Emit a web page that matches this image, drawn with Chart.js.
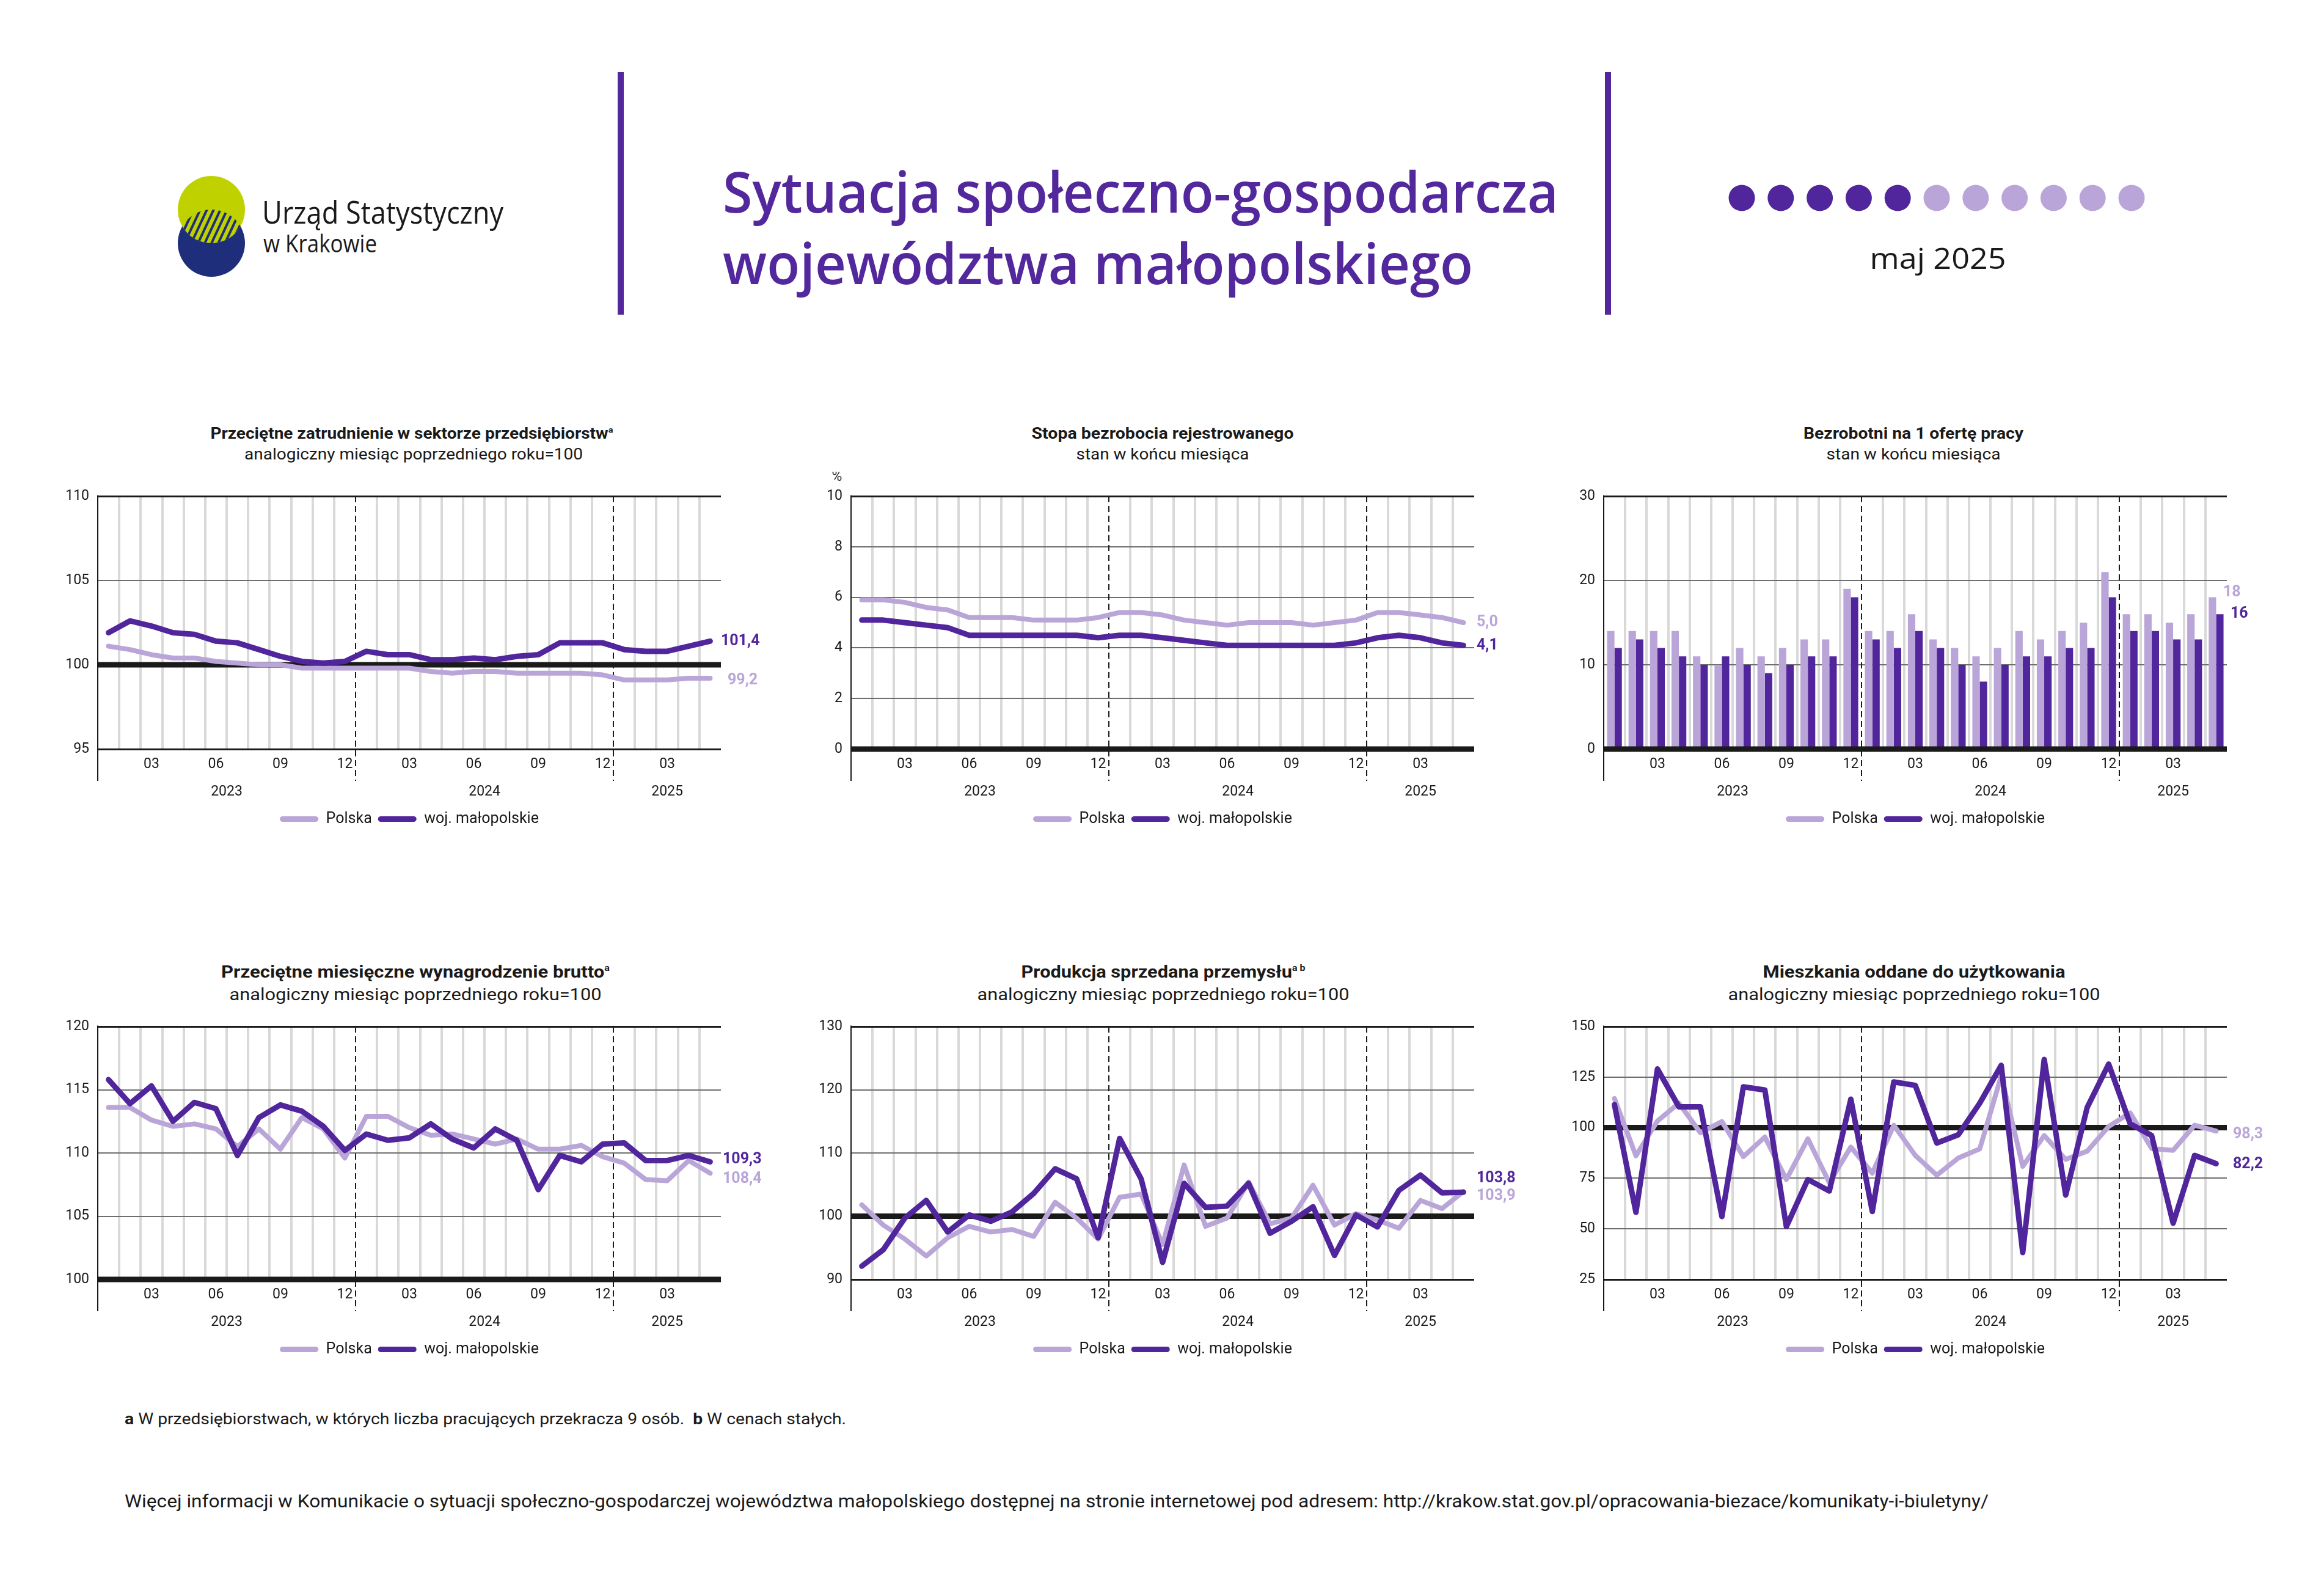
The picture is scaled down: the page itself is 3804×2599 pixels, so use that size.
<!DOCTYPE html>
<html lang="pl">
<head>
<meta charset="utf-8">
<title>Sytuacja społeczno-gospodarcza województwa małopolskiego – maj 2025</title>
<script src="https://cdn.jsdelivr.net/npm/chart.js@4.4.1/dist/chart.umd.min.js"></script>
<style>
  html, body { margin: 0; padding: 0; background: #fff; }
  #page { position: relative; width: 3804px; height: 2599px; overflow: hidden; background: #fff; }
  #page svg, #page canvas { position: absolute; left: 0; top: 0; }
  text { font-family: Roboto, sans-serif; fill: #1a1a1a; }
</style>
</head>
<body>
<div id="page">
<svg width="3804" height="2599" xmlns="http://www.w3.org/2000/svg">
  <defs>
    <clipPath id="navyClip"><circle cx="346" cy="398" r="55"/></clipPath>
    <pattern id="hatch" patternUnits="userSpaceOnUse" width="10" height="10" patternTransform="rotate(25)">
      <rect x="0" y="0" width="4" height="10" fill="#1f2e7a"/>
    </pattern>
  </defs>
  <!-- logo -->
  <circle cx="346" cy="398" r="55" fill="#1f2e7a"/>
  <circle cx="346" cy="343" r="55" fill="#bfd200"/>
  <g clip-path="url(#navyClip)"><circle cx="346" cy="343" r="55" fill="url(#hatch)"/></g>
  <text x="429" y="366" font-size="52" textLength="395" lengthAdjust="spacingAndGlyphs" style="font-family:'Open Sans'">Urząd Statystyczny</text>
  <text x="431" y="413" font-size="41" textLength="186" lengthAdjust="spacingAndGlyphs" style="font-family:'Open Sans'">w Krakowie</text>

  <rect x="1011" y="118" width="10" height="397" fill="#53289c"/>
  <rect x="2627" y="118" width="10" height="397" fill="#53289c"/>

  <text x="1183" y="348" font-size="92" font-weight="600" textLength="1368" lengthAdjust="spacingAndGlyphs" style="font-family:'Open Sans';fill:#53289c">Sytuacja społeczno-gospodarcza</text>
  <text x="1183" y="465" font-size="92" font-weight="600" textLength="1228" lengthAdjust="spacingAndGlyphs" style="font-family:'Open Sans';fill:#53289c">województwa małopolskiego</text>

  <g id="dots"></g>
  <text x="3172" y="440" text-anchor="middle" font-size="47" textLength="223" lengthAdjust="spacingAndGlyphs" style="font-family:'Open Sans'">maj 2025</text>

  <!-- chart titles -->
  <text x="674" y="718" text-anchor="middle" font-size="25" font-weight="700" textLength="659" lengthAdjust="spacingAndGlyphs">Przeciętne zatrudnienie w sektorze przedsiębiorstw<tspan font-size="13" dy="-10">a</tspan></text>
  <text x="677" y="752" text-anchor="middle" font-size="25" textLength="554" lengthAdjust="spacingAndGlyphs">analogiczny miesiąc poprzedniego roku=100</text>

  <text x="1903" y="718" text-anchor="middle" font-size="25" font-weight="700" textLength="429" lengthAdjust="spacingAndGlyphs">Stopa bezrobocia rejestrowanego</text>
  <text x="1903" y="752" text-anchor="middle" font-size="25" textLength="283" lengthAdjust="spacingAndGlyphs">stan w końcu miesiąca</text>

  <text x="3132" y="718" text-anchor="middle" font-size="25" font-weight="700" textLength="360" lengthAdjust="spacingAndGlyphs">Bezrobotni na 1 ofertę pracy</text>
  <text x="3132" y="752" text-anchor="middle" font-size="25" textLength="285" lengthAdjust="spacingAndGlyphs">stan w końcu miesiąca</text>

  <text x="680" y="1600" text-anchor="middle" font-size="27" font-weight="700" textLength="636" lengthAdjust="spacingAndGlyphs">Przeciętne miesięczne wynagrodzenie brutto<tspan font-size="14" dy="-11">a</tspan></text>
  <text x="680" y="1637" text-anchor="middle" font-size="27" textLength="609" lengthAdjust="spacingAndGlyphs">analogiczny miesiąc poprzedniego roku=100</text>

  <text x="1904" y="1600" text-anchor="middle" font-size="27" font-weight="700" textLength="465" lengthAdjust="spacingAndGlyphs">Produkcja sprzedana przemysłu<tspan font-size="14" dy="-11">a b</tspan></text>
  <text x="1904" y="1637" text-anchor="middle" font-size="27" textLength="609" lengthAdjust="spacingAndGlyphs">analogiczny miesiąc poprzedniego roku=100</text>

  <text x="3133" y="1600" text-anchor="middle" font-size="27" font-weight="700" textLength="495" lengthAdjust="spacingAndGlyphs">Mieszkania oddane do użytkowania</text>
  <text x="3133" y="1637" text-anchor="middle" font-size="27" textLength="609" lengthAdjust="spacingAndGlyphs">analogiczny miesiąc poprzedniego roku=100</text>

  <!-- footer -->
  <text x="204" y="2331" font-size="25" textLength="1181" lengthAdjust="spacingAndGlyphs"><tspan font-weight="700">a</tspan> W przedsiębiorstwach, w których liczba pracujących przekracza 9 osób.&#160; <tspan font-weight="700">b</tspan> W cenach stałych.</text>
  <text x="204" y="2467" font-size="30" textLength="3051" lengthAdjust="spacingAndGlyphs">Więcej informacji w Komunikacie o sytuacji społeczno-gospodarczej województwa małopolskiego dostępnej na stronie internetowej pod adresem: http://krakow.stat.gov.pl/opracowania-biezace/komunikaty-i-biuletyny/</text>
</svg>
<canvas id="c1"></canvas>
<canvas id="c2"></canvas>
<canvas id="c3"></canvas>
<canvas id="c4"></canvas>
<canvas id="c5"></canvas>
<canvas id="c6"></canvas>
</div>
<script>
// months Jan 2023 - May 2025
const monthLabels = ['01','02','03','04','05','06','07','08','09','10','11','12',
                     '01','02','03','04','05','06','07','08','09','10','11','12',
                     '01','02','03','04','05'];
const quarterTicks = ['03','06','09','12'];
const yearLabels = ['2023','2024','2025'];
const yearSpans = [12, 12, 5];
const seriesNames = ['Polska', 'woj. małopolskie'];

const zatrPolska = [101.1,100.9,100.6,100.4,100.4,100.2,100.1,100.0,100.0,99.8,99.8,99.8,
                    99.8,99.8,99.8,99.6,99.5,99.6,99.6,99.5,99.5,99.5,99.5,99.4,
                    99.1,99.1,99.1,99.2,99.2];
const zatrMalop = [101.9,102.6,102.3,101.9,101.8,101.4,101.3,100.9,100.5,100.2,100.1,100.2,
                   100.8,100.6,100.6,100.3,100.3,100.4,100.3,100.5,100.6,101.3,101.3,101.3,
                   100.9,100.8,100.8,101.1,101.4];
const zatrTicks = [95, 100, 105, 110];

const bezrobPolska = [5.9,5.9,5.8,5.6,5.5,5.2,5.2,5.2,5.1,5.1,5.1,5.2,
                      5.4,5.4,5.3,5.1,5.0,4.9,5.0,5.0,5.0,4.9,5.0,5.1,
                      5.4,5.4,5.3,5.2,5.0];
const bezrobMalop = [5.1,5.1,5.0,4.9,4.8,4.5,4.5,4.5,4.5,4.5,4.5,4.4,
                     4.5,4.5,4.4,4.3,4.2,4.1,4.1,4.1,4.1,4.1,4.1,4.2,
                     4.4,4.5,4.4,4.2,4.1];
const bezrobTicks = [0, 2, 4, 6, 8, 10];

const ofertyPolska = [14,14,14,14,11,10,12,11,12,13,13,19,
                      14,14,16,13,12,11,12,14,13,14,15,21,
                      16,16,15,16,18];
const ofertyMalop = [12,13,12,11,10,11,10,9,10,11,11,18,
                     13,12,14,12,10,8,10,11,11,12,12,18,
                     14,14,13,13,16];
const ofertyTicks = [0, 10, 20, 30];

const wynagPolska = [113.6,113.6,112.6,112.1,112.3,111.9,110.5,111.9,110.3,112.8,111.9,109.6,
                     112.9,112.9,112.0,111.4,111.5,111.1,110.7,111.1,110.3,110.3,110.6,109.7,
                     109.2,107.9,107.8,109.4,108.4];
const wynagMalop = [115.8,113.9,115.3,112.5,114.0,113.5,109.8,112.8,113.8,113.3,112.1,110.2,
                    111.5,111.0,111.2,112.3,111.1,110.4,111.9,111.0,107.1,109.8,109.3,110.7,
                    110.8,109.4,109.4,109.8,109.3];
const wynagTicks = [100, 105, 110, 115, 120];

const prodPolska = [101.8,98.6,96.4,93.7,96.6,98.4,97.5,97.9,96.8,102.2,99.7,96.4,
                    103.0,103.5,95.5,108.1,98.4,99.7,105.4,98.8,99.7,104.9,98.6,100.4,
                    99.4,98.1,102.5,101.2,103.9];
const prodMalop = [92.1,94.7,99.7,102.5,97.5,100.2,99.2,100.7,103.6,107.5,105.9,96.6,
                   112.3,105.9,92.7,105.2,101.4,101.6,105.2,97.3,99.2,101.5,93.8,100.2,
                   98.3,104.1,106.5,103.7,103.8];
const prodTicks = [90, 100, 110, 120, 130];

const mieszkPolska = [114.4,86.1,103.3,112.1,97.5,103.0,85.7,95.4,74.4,94.5,72.8,90.4,
                      77.5,101.2,86.3,76.5,85.0,89.5,125.6,80.9,96.1,84.3,88.4,100.6,
                      107.3,89.7,88.8,101.2,98.3];
const mieszkMalop = [111.4,58.2,129.0,110.3,110.3,56.1,120.2,118.6,51.1,74.4,68.7,114.1,
                     58.6,122.6,120.9,92.4,96.5,112.1,130.8,38.3,133.7,66.7,110.0,131.4,
                     101.9,96.1,52.8,86.3,82.2];
const mieszkTicks = [25, 50, 75, 100, 125, 150];

const colPolska = '#b9a5d8';
const colMalop = '#51259b';
const ink = '#1a1a1a';

// progress dots in the header (5 of 12 months done)
const dotsG = document.getElementById('dots');
for (let i = 0; i < 11; i++) {
    const c = document.createElementNS('http://www.w3.org/2000/svg', 'circle');
    c.setAttribute('cx', 2851 + i * 63.8);
    c.setAttribute('cy', 324);
    c.setAttribute('r', 21.5);
    c.setAttribute('fill', i < 5 ? colMalop : colPolska);
    dotsG.appendChild(c);
}

Chart.defaults.font.family = 'Roboto, sans-serif';

function drawBase(chart, base) {
    const {ctx, chartArea: a, scales: {y}} = chart;
    const py = y.getPixelForValue(base);
    ctx.save();
    ctx.strokeStyle = ink;
    ctx.lineWidth = 9;
    ctx.setLineDash([]);
    ctx.beginPath();
    ctx.moveTo(a.left, py);
    ctx.lineTo(a.right, py);
    ctx.stroke();
    ctx.restore();
}

const decor = {
    id: 'decor',
    beforeDatasetsDraw(chart, args, o) {
        const {ctx, chartArea: a, scales: {x}} = chart;
        ctx.save();
        ctx.strokeStyle = ink;
        ctx.lineWidth = 2;
        ctx.setLineDash([10, 6]);
        let start = 0;
        yearSpans.slice(0, -1).forEach(n => {
            start += n;
            const px = Math.round((x.getPixelForValue(start - 1) + x.getPixelForValue(start)) / 2);
            ctx.beginPath();
            ctx.moveTo(px, a.top);
            ctx.lineTo(px, a.bottom + 52);
            ctx.stroke();
        });
        ctx.setLineDash([]);
        ctx.beginPath();
        ctx.moveTo(a.left, a.top - 1.5);
        ctx.lineTo(a.left, a.bottom + 52);
        ctx.stroke();
        ctx.restore();
        if (!o.baseOnTop) drawBase(chart, o.base);
    },
    afterDatasetsDraw(chart, args, o) {
        if (o.baseOnTop) drawBase(chart, o.base);
        const {ctx, chartArea: a, scales: {y}} = chart;
        ctx.save();
        ctx.font = 'bold 25px Roboto, sans-serif';
        ctx.textAlign = 'left';
        ctx.textBaseline = 'middle';
        chart.data.datasets.forEach((ds, i) => {
            const v = ds.data[ds.data.length - 1];
            const lab = o.labels[i];
            ctx.fillStyle = ds.backgroundColor;
            ctx.fillText(v.toFixed(o.digits).replace('.', ','), a.right + lab.dx, y.getPixelForValue(v) + lab.dy);
        });
        ctx.restore();
    },
    afterDraw(chart, args, o) {
        const {ctx, chartArea: a, scales: {x}} = chart;
        ctx.save();
        ctx.font = '23px Roboto, sans-serif';
        ctx.fillStyle = ink;
        ctx.textAlign = 'center';
        ctx.textBaseline = 'middle';
        let s = 0;
        yearLabels.forEach((t, k) => {
            const e = s + yearSpans[k] - 1;
            ctx.fillText(t, (x.getPixelForValue(s) + x.getPixelForValue(e)) / 2, a.bottom + 70);
            s += yearSpans[k];
        });
        if (o.unit) ctx.fillText(o.unit, a.left - 23, a.top - 31);
        ctx.restore();
    }
};

const charts = [
    {id: 'c1', left: 160, top: 812, type: 'line', polska: zatrPolska, malop: zatrMalop, ticks: zatrTicks,
     base: 100, digits: 1, labels: [{dx: 11, dy: 4}, {dx: 0, dy: 0}]},
    {id: 'c2', left: 1393, top: 812, type: 'line', polska: bezrobPolska, malop: bezrobMalop, ticks: bezrobTicks,
     base: 0, digits: 1, unit: '%', labels: [{dx: 4, dy: 0}, {dx: 4, dy: 0}]},
    {id: 'c3', left: 2625, top: 812, type: 'bar', polska: ofertyPolska, malop: ofertyMalop, ticks: ofertyTicks,
     base: 0, digits: 0, labels: [{dx: -6, dy: -8}, {dx: 6, dy: 0}]},
    {id: 'c4', left: 160, top: 1680, type: 'line', polska: wynagPolska, malop: wynagMalop, ticks: wynagTicks,
     base: 100, digits: 1, labels: [{dx: 3, dy: 10}, {dx: 3, dy: -4}]},
    {id: 'c5', left: 1393, top: 1680, type: 'line', polska: prodPolska, malop: prodMalop, ticks: prodTicks,
     base: 100, digits: 1, labels: [{dx: 4, dy: 8}, {dx: 4, dy: -22}]},
    {id: 'c6', left: 2625, top: 1680, type: 'line', polska: mieszkPolska, malop: mieszkMalop, ticks: mieszkTicks,
     base: 100, digits: 1, labels: [{dx: 10, dy: 6}, {dx: 10, dy: 1}]}
];

charts.forEach(c => {
    const el = document.getElementById(c.id);
    el.width = 1280;
    el.height = 596;
    el.style.left = (c.left - 130) + 'px';
    el.style.top = (c.top - 40) + 'px';
    const isBar = c.type === 'bar';
    const ymin = c.ticks[0];
    const ymax = c.ticks[c.ticks.length - 1];

    const mkSet = (name, data, color, width, order) => isBar
        ? {label: name, data: data, backgroundColor: color, borderColor: color, borderWidth: 0,
           categoryPercentage: 0.69, barPercentage: 1}
        : {label: name, data: data, backgroundColor: color, borderColor: color, borderWidth: width,
           pointRadius: 0, tension: 0, borderJoinStyle: 'round', borderCapStyle: 'round', fill: false, order: order};

    new Chart(el, {
        type: c.type,
        data: {
            labels: monthLabels,
            datasets: [
                mkSet(seriesNames[0], c.polska, colPolska, 8, 2),
                mkSet(seriesNames[1], c.malop, colMalop, 9, 1)
            ]
        },
        options: {
            responsive: false,
            devicePixelRatio: 1,
            animation: false,
            layout: {padding: {left: 50, right: 130, top: 40, bottom: 5}},
            scales: {
                x: {
                    type: 'category',
                    offset: true,
                    afterFit: s => { s.height = 92; },
                    border: {display: false},
                    grid: {
                        offset: true,
                        z: -2,
                        drawTicks: false,
                        lineWidth: 4,
                        color: g => (g.index === undefined || g.index % 12 === 0) ? 'rgba(0,0,0,0)' : '#d9d9d9'
                    },
                    ticks: {
                        autoSkip: false, maxRotation: 0, minRotation: 0, padding: 11,
                        color: ink, font: {size: 23},
                        callback: (v, i) => quarterTicks.includes(monthLabels[i]) ? monthLabels[i] : ''
                    }
                },
                y: {
                    min: ymin,
                    max: ymax,
                    afterBuildTicks: s => { s.ticks = c.ticks.map(v => ({value: v})); },
                    afterFit: s => { s.width = 80; },
                    border: {display: false},
                    grid: {
                        z: -1,
                        drawTicks: false,
                        color: g => {
                            const v = g.tick ? g.tick.value : null;
                            if (v === c.base) return 'rgba(0,0,0,0)';
                            return (v === ymin || v === ymax) ? ink : '#6e6e6e';
                        },
                        lineWidth: g => {
                            const v = g.tick ? g.tick.value : null;
                            return (v === ymin || v === ymax) ? 3 : 2;
                        }
                    },
                    ticks: {padding: 14, color: ink, font: {size: 23}}
                }
            },
            plugins: {
                tooltip: {enabled: false},
                legend: {
                    position: 'bottom',
                    fullSize: false,
                    labels: {
                        boxWidth: 63, boxHeight: 9, useBorderRadius: true, borderRadius: 4.5, padding: 10,
                        color: ink, font: {size: 25},
                        sort: (a, b) => a.datasetIndex - b.datasetIndex,
                        generateLabels: chart => Chart.defaults.plugins.legend.labels.generateLabels(chart)
                            .map(it => Object.assign(it, {lineWidth: 0, strokeStyle: 'rgba(0,0,0,0)'}))
                    }
                },
                decor: {base: c.base, baseOnTop: isBar, digits: c.digits, labels: c.labels, unit: c.unit}
            }
        },
        plugins: [decor]
    });
});
</script>
</body>
</html>
